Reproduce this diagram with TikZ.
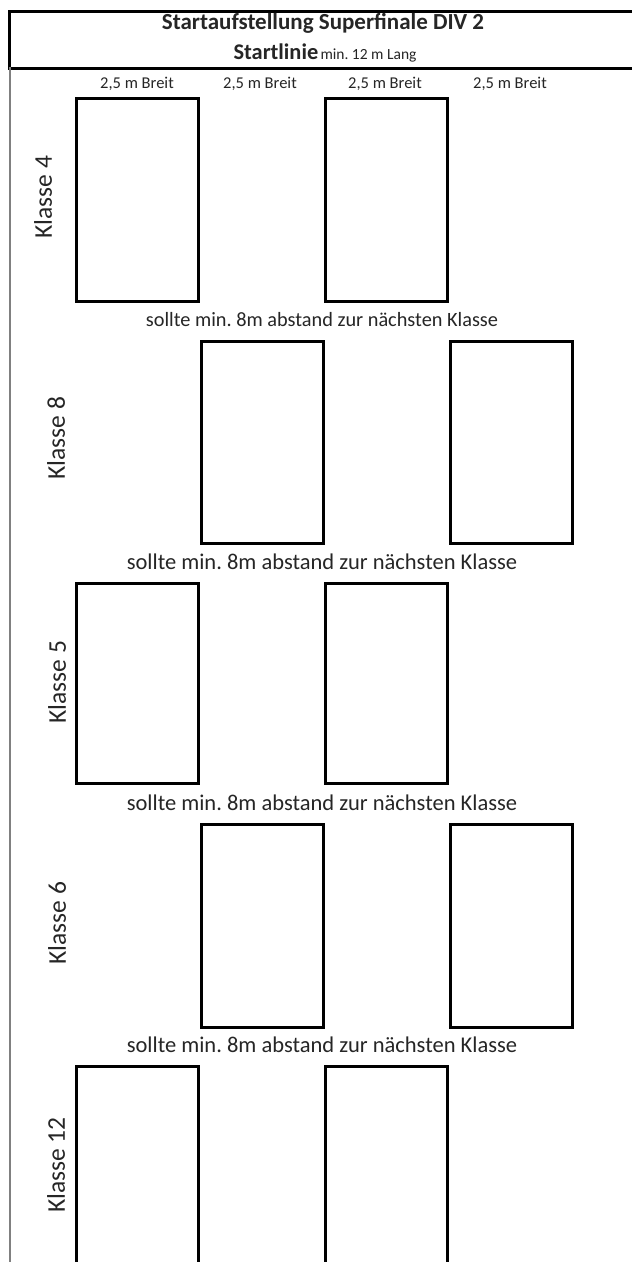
\documentclass[tikz,border=0pt]{standalone}
\usepackage{fontspec}
\setmainfont{Carlito}
\frenchspacing
\begin{document}
\begin{tikzpicture}[x=1pt,y=-1pt,
  lane/.style={draw=black,line width=3pt,minimum width=122pt,minimum height=200pt,inner sep=0pt,anchor=north west},
  klasse/.style={rotate=90,font=\fontsize{25.5}{28}\selectfont,text=black!85},
  gap/.style={font=\fontsize{22.5}{26}\selectfont,text=black!85},
  breit/.style={font=\fontsize{16.5}{19}\selectfont,text=black!85}]
\useasboundingbox (0,0) rectangle (632,1262);
\clip (0,0) rectangle (632,1262);
\fill[white] (0,0) rectangle (632,1262);
% header
\node[draw=black,line width=2.5pt,minimum width=640pt,minimum height=57pt,anchor=north west,inner sep=0pt] (head) at (8,10) {};
\node[font=\bfseries\fontsize{23}{26}\selectfont,text=black!85] (title) at (323,23) {Startaufstellung Superfinale DIV 2};
\node[text=black!85] (start) at (325,53) {{\bfseries\fontsize{22.4}{26}\selectfont Startlinie} {\fontsize{15.5}{18}\selectfont min. 12 m Lang}};
\coordinate (lt) at (10,67);
\coordinate (lb) at (10,1270);
\draw[black!50,line width=2pt] (lt) -- (lb);
% width labels
\node[breit] (b1) at (137,84) {2,5 m Breit};
\node[breit] (b2) at (260,84) {2,5 m Breit};
\node[breit] (b3) at (385,84) {2,5 m Breit};
\node[breit] (b4) at (510,84) {2,5 m Breit};
% row 1
\node[lane,minimum height=203pt] (r1a) at (75,97) {};
\node[lane,minimum height=203pt] (r1b) at (324,97) {};
\node[klasse] (k4) at (43,197) {Klasse 4};
\node[gap,font=\fontsize{20.3}{24}\selectfont] (g1) at (322,320) {sollte min. 8m abstand zur nächsten Klasse};
% row 2
\node[lane,minimum height=202pt] (r2a) at (200,340) {};
\node[lane,minimum height=202pt] (r2b) at (449,340) {};
\node[klasse] (k8) at (56,438) {Klasse 8};
\node[gap] (g2) at (322,562) {sollte min. 8m abstand zur nächsten Klasse};
% row 3
\node[lane,minimum height=200pt] (r3a) at (75,582) {};
\node[lane,minimum height=200pt] (r3b) at (324,582) {};
\node[klasse] (k5) at (57,682) {Klasse 5};
\node[gap] (g3) at (322,803) {sollte min. 8m abstand zur nächsten Klasse};
% row 4
\node[lane,minimum height=203pt] (r4a) at (200,823) {};
\node[lane,minimum height=203pt] (r4b) at (449,823) {};
\node[klasse] (k6) at (57,923) {Klasse 6};
\node[gap] (g4) at (322,1045) {sollte min. 8m abstand zur nächsten Klasse};
% row 5
\node[lane,minimum height=260pt] (r5a) at (75,1065) {};
\node[lane,minimum height=260pt] (r5b) at (324,1065) {};
\node[klasse] (k12) at (56,1165) {Klasse 12};
\end{tikzpicture}
\end{document}
